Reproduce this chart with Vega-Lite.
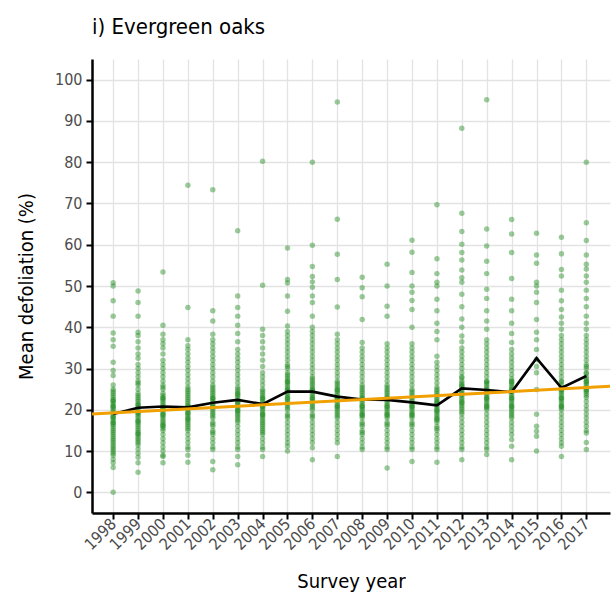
{
"$schema":"https://vega.github.io/schema/vega-lite/v6.json",
"autosize":{"type":"none"},
"padding":{"left":92,"top":59,"right":2,"bottom":87},
"width":518,"height":454,
"title":{"text":"i) Evergreen oaks","anchor":"start","frame":"group","fontSize":22,"fontWeight":"normal","font":"Liberation Sans Narrow, DejaVu Sans Condensed, sans-serif","color":"black","baseline":"alphabetic","offset":3},
"config":{"view":{"stroke":null},
"axis":{"domainColor":"black","domainWidth":2.5,"tickColor":"black","tickWidth":2,"tickSize":6,"gridColor":"#e3e3e3","gridWidth":1.3,"labelColor":"#4d4d4d","labelFont":"Liberation Sans Narrow, DejaVu Sans Condensed, sans-serif","labelFontSize":16,"titleFont":"Liberation Sans Narrow, DejaVu Sans Condensed, sans-serif","titleFontSize":20,"titleColor":"black","titleFontWeight":"normal"}},
"datasets":{
"means":[{"yr":1998,"d":19.0},{"yr":1999,"d":20.5},{"yr":2000,"d":20.8},{"yr":2001,"d":20.6},{"yr":2002,"d":21.7},{"yr":2003,"d":22.4},{"yr":2004,"d":21.4},{"yr":2005,"d":24.4},{"yr":2006,"d":24.4},{"yr":2007,"d":23.2},{"yr":2008,"d":22.5},{"yr":2009,"d":22.4},{"yr":2010,"d":21.8},{"yr":2011,"d":21.1},{"yr":2012,"d":25.2},{"yr":2013,"d":24.8},{"yr":2014,"d":24.3},{"yr":2015,"d":32.5},{"yr":2016,"d":25.3},{"yr":2017,"d":28.2}],
"trend":[{"yr":1997.15,"d":19.0},{"yr":2017.95,"d":25.7}],
"pts":[
{"yr":1998,"d":0},{"yr":1998,"d":6},{"yr":1998,"d":50.8},{"yr":1998,"d":50},{"yr":1998,"d":46.4},{"yr":1998,"d":42.7},{"yr":1998,"d":38.6},{"yr":1998,"d":37},{"yr":1998,"d":35.4},{"yr":1998,"d":31.5},{"yr":1998,"d":28.3},{"yr":1998,"d":29.5},{"yr":1998,"d":7.2},{"yr":1998,"d":8},{"yr":1998,"d":9},{"yr":1998,"d":10},{"yr":1998,"d":10.5},{"yr":1998,"d":11},{"yr":1998,"d":12},{"yr":1998,"d":12.5},{"yr":1998,"d":13},{"yr":1998,"d":14},{"yr":1998,"d":14.5},{"yr":1998,"d":15},{"yr":1998,"d":15.5},{"yr":1998,"d":16},{"yr":1998,"d":16.5},{"yr":1998,"d":17},{"yr":1998,"d":17.5},{"yr":1998,"d":18},{"yr":1998,"d":18.5},{"yr":1998,"d":19},{"yr":1998,"d":19.5},{"yr":1998,"d":20},{"yr":1998,"d":20.5},{"yr":1998,"d":21},{"yr":1998,"d":21.5},{"yr":1998,"d":22},{"yr":1998,"d":22.5},{"yr":1998,"d":23},{"yr":1998,"d":23.5},{"yr":1998,"d":24},{"yr":1998,"d":24.5},{"yr":1998,"d":25},{"yr":1998,"d":13.5},{"yr":1998,"d":16.8},{"yr":1998,"d":18.2},{"yr":1998,"d":20.8},{"yr":1998,"d":22.2},{"yr":1998,"d":11.5},{"yr":1998,"d":9.5},{"yr":1998,"d":26},
{"yr":1999,"d":48.8},{"yr":1999,"d":46},{"yr":1999,"d":42.7},{"yr":1999,"d":4.9},{"yr":1999,"d":7.2},{"yr":1999,"d":8.5},{"yr":1999,"d":9.5},{"yr":1999,"d":10.5},{"yr":1999,"d":11.5},{"yr":1999,"d":12},{"yr":1999,"d":12.5},{"yr":1999,"d":13},{"yr":1999,"d":13.5},{"yr":1999,"d":14},{"yr":1999,"d":14.5},{"yr":1999,"d":15},{"yr":1999,"d":15.5},{"yr":1999,"d":16},{"yr":1999,"d":16.5},{"yr":1999,"d":17},{"yr":1999,"d":17.5},{"yr":1999,"d":18},{"yr":1999,"d":18.5},{"yr":1999,"d":19},{"yr":1999,"d":19.5},{"yr":1999,"d":20},{"yr":1999,"d":20.5},{"yr":1999,"d":21},{"yr":1999,"d":21.5},{"yr":1999,"d":22},{"yr":1999,"d":22.5},{"yr":1999,"d":23},{"yr":1999,"d":23.5},{"yr":1999,"d":24},{"yr":1999,"d":25},{"yr":1999,"d":26},{"yr":1999,"d":26.5},{"yr":1999,"d":27},{"yr":1999,"d":28},{"yr":1999,"d":29},{"yr":1999,"d":30},{"yr":1999,"d":31},{"yr":1999,"d":32.5},{"yr":1999,"d":33.5},{"yr":1999,"d":35},{"yr":1999,"d":36.5},{"yr":1999,"d":38},{"yr":1999,"d":38.8},{"yr":1999,"d":17.2},{"yr":1999,"d":19.2},{"yr":1999,"d":21.2},{"yr":1999,"d":14.2},
{"yr":2000,"d":53.4},{"yr":2000,"d":40.5},{"yr":2000,"d":38.3},{"yr":2000,"d":37},{"yr":2000,"d":36},{"yr":2000,"d":35},{"yr":2000,"d":33.5},{"yr":2000,"d":32},{"yr":2000,"d":31},{"yr":2000,"d":30},{"yr":2000,"d":29},{"yr":2000,"d":28},{"yr":2000,"d":27},{"yr":2000,"d":26},{"yr":2000,"d":25.5},{"yr":2000,"d":25},{"yr":2000,"d":24},{"yr":2000,"d":23.5},{"yr":2000,"d":23},{"yr":2000,"d":22.5},{"yr":2000,"d":22},{"yr":2000,"d":21.5},{"yr":2000,"d":21},{"yr":2000,"d":20.5},{"yr":2000,"d":20},{"yr":2000,"d":19.5},{"yr":2000,"d":19},{"yr":2000,"d":18.5},{"yr":2000,"d":18},{"yr":2000,"d":17.5},{"yr":2000,"d":17},{"yr":2000,"d":16.5},{"yr":2000,"d":16},{"yr":2000,"d":15.5},{"yr":2000,"d":15},{"yr":2000,"d":14},{"yr":2000,"d":13},{"yr":2000,"d":12},{"yr":2000,"d":11},{"yr":2000,"d":10},{"yr":2000,"d":9},{"yr":2000,"d":8.7},{"yr":2000,"d":7.2},{"yr":2000,"d":18.8},{"yr":2000,"d":20.2},{"yr":2000,"d":22.8},{"yr":2000,"d":16.2},
{"yr":2001,"d":74.4},{"yr":2001,"d":44.8},{"yr":2001,"d":37},{"yr":2001,"d":35.5},{"yr":2001,"d":34.6},{"yr":2001,"d":33.5},{"yr":2001,"d":32.5},{"yr":2001,"d":31.5},{"yr":2001,"d":30.5},{"yr":2001,"d":29.5},{"yr":2001,"d":28.5},{"yr":2001,"d":27.5},{"yr":2001,"d":26.5},{"yr":2001,"d":25.5},{"yr":2001,"d":25},{"yr":2001,"d":24.5},{"yr":2001,"d":24},{"yr":2001,"d":23.5},{"yr":2001,"d":23},{"yr":2001,"d":22.5},{"yr":2001,"d":22},{"yr":2001,"d":21.5},{"yr":2001,"d":21},{"yr":2001,"d":20.5},{"yr":2001,"d":20},{"yr":2001,"d":19.5},{"yr":2001,"d":19},{"yr":2001,"d":18.5},{"yr":2001,"d":18},{"yr":2001,"d":17.5},{"yr":2001,"d":17},{"yr":2001,"d":16.5},{"yr":2001,"d":16},{"yr":2001,"d":15.5},{"yr":2001,"d":15},{"yr":2001,"d":14},{"yr":2001,"d":13},{"yr":2001,"d":12},{"yr":2001,"d":11},{"yr":2001,"d":10.4},{"yr":2001,"d":9},{"yr":2001,"d":7.3},{"yr":2001,"d":20.8},{"yr":2001,"d":19.2},{"yr":2001,"d":17.8},
{"yr":2002,"d":73.3},{"yr":2002,"d":44},{"yr":2002,"d":41.5},{"yr":2002,"d":38.3},{"yr":2002,"d":37},{"yr":2002,"d":36},{"yr":2002,"d":35},{"yr":2002,"d":34},{"yr":2002,"d":33},{"yr":2002,"d":32},{"yr":2002,"d":31},{"yr":2002,"d":30},{"yr":2002,"d":29},{"yr":2002,"d":28},{"yr":2002,"d":27},{"yr":2002,"d":26},{"yr":2002,"d":25.5},{"yr":2002,"d":25},{"yr":2002,"d":24.5},{"yr":2002,"d":24},{"yr":2002,"d":23.5},{"yr":2002,"d":23},{"yr":2002,"d":22.5},{"yr":2002,"d":22},{"yr":2002,"d":21.5},{"yr":2002,"d":21},{"yr":2002,"d":20.5},{"yr":2002,"d":20},{"yr":2002,"d":19.5},{"yr":2002,"d":19},{"yr":2002,"d":18.5},{"yr":2002,"d":18},{"yr":2002,"d":17},{"yr":2002,"d":16},{"yr":2002,"d":15},{"yr":2002,"d":14},{"yr":2002,"d":13},{"yr":2002,"d":12},{"yr":2002,"d":11},{"yr":2002,"d":10.4},{"yr":2002,"d":7.5},{"yr":2002,"d":5.5},{"yr":2002,"d":22.8},{"yr":2002,"d":20.8},{"yr":2002,"d":16.5},{"yr":2002,"d":14.5},
{"yr":2003,"d":63.4},{"yr":2003,"d":47.6},{"yr":2003,"d":44.8},{"yr":2003,"d":42.7},{"yr":2003,"d":40.5},{"yr":2003,"d":38.5},{"yr":2003,"d":36.5},{"yr":2003,"d":34.6},{"yr":2003,"d":33.5},{"yr":2003,"d":32.5},{"yr":2003,"d":31.5},{"yr":2003,"d":30.5},{"yr":2003,"d":29.5},{"yr":2003,"d":28.5},{"yr":2003,"d":27.5},{"yr":2003,"d":26.5},{"yr":2003,"d":25.5},{"yr":2003,"d":25},{"yr":2003,"d":24.5},{"yr":2003,"d":24},{"yr":2003,"d":23.5},{"yr":2003,"d":23},{"yr":2003,"d":22.5},{"yr":2003,"d":22},{"yr":2003,"d":21.5},{"yr":2003,"d":21},{"yr":2003,"d":20.5},{"yr":2003,"d":20},{"yr":2003,"d":19.5},{"yr":2003,"d":19},{"yr":2003,"d":18.5},{"yr":2003,"d":18},{"yr":2003,"d":17.5},{"yr":2003,"d":17},{"yr":2003,"d":16},{"yr":2003,"d":15},{"yr":2003,"d":14},{"yr":2003,"d":13},{"yr":2003,"d":12},{"yr":2003,"d":11},{"yr":2003,"d":10.4},{"yr":2003,"d":8.7},{"yr":2003,"d":6.7},{"yr":2003,"d":21.8},{"yr":2003,"d":23.8},{"yr":2003,"d":19.8},
{"yr":2004,"d":80.2},{"yr":2004,"d":50.2},{"yr":2004,"d":39.5},{"yr":2004,"d":38},{"yr":2004,"d":36.5},{"yr":2004,"d":35},{"yr":2004,"d":33.5},{"yr":2004,"d":32},{"yr":2004,"d":30.5},{"yr":2004,"d":29},{"yr":2004,"d":28},{"yr":2004,"d":27},{"yr":2004,"d":26},{"yr":2004,"d":25},{"yr":2004,"d":24.5},{"yr":2004,"d":24},{"yr":2004,"d":23.5},{"yr":2004,"d":23},{"yr":2004,"d":22.5},{"yr":2004,"d":22},{"yr":2004,"d":21.5},{"yr":2004,"d":21},{"yr":2004,"d":20.5},{"yr":2004,"d":20},{"yr":2004,"d":19.5},{"yr":2004,"d":19},{"yr":2004,"d":18.5},{"yr":2004,"d":18},{"yr":2004,"d":17.5},{"yr":2004,"d":17},{"yr":2004,"d":16.5},{"yr":2004,"d":16},{"yr":2004,"d":15.5},{"yr":2004,"d":15},{"yr":2004,"d":14},{"yr":2004,"d":13},{"yr":2004,"d":12},{"yr":2004,"d":11},{"yr":2004,"d":10.4},{"yr":2004,"d":8.7},{"yr":2004,"d":20.8},{"yr":2004,"d":18.8},{"yr":2004,"d":22.8},{"yr":2004,"d":14.5},
{"yr":2005,"d":59.2},{"yr":2005,"d":51.6},{"yr":2005,"d":50.7},{"yr":2005,"d":47.6},{"yr":2005,"d":43.9},{"yr":2005,"d":40.3},{"yr":2005,"d":39},{"yr":2005,"d":38},{"yr":2005,"d":37},{"yr":2005,"d":36},{"yr":2005,"d":35},{"yr":2005,"d":34},{"yr":2005,"d":33},{"yr":2005,"d":32},{"yr":2005,"d":31},{"yr":2005,"d":30},{"yr":2005,"d":29},{"yr":2005,"d":28.5},{"yr":2005,"d":28},{"yr":2005,"d":27.5},{"yr":2005,"d":27},{"yr":2005,"d":26.5},{"yr":2005,"d":26},{"yr":2005,"d":25.5},{"yr":2005,"d":25},{"yr":2005,"d":24.5},{"yr":2005,"d":24},{"yr":2005,"d":23.5},{"yr":2005,"d":23},{"yr":2005,"d":22.5},{"yr":2005,"d":22},{"yr":2005,"d":21.5},{"yr":2005,"d":21},{"yr":2005,"d":20.5},{"yr":2005,"d":20},{"yr":2005,"d":19},{"yr":2005,"d":18},{"yr":2005,"d":17},{"yr":2005,"d":16},{"yr":2005,"d":15},{"yr":2005,"d":14},{"yr":2005,"d":13},{"yr":2005,"d":12},{"yr":2005,"d":11.2},{"yr":2005,"d":10},{"yr":2005,"d":24.8},{"yr":2005,"d":26.8},{"yr":2005,"d":22.8},{"yr":2005,"d":30.5},{"yr":2005,"d":18.5},
{"yr":2006,"d":80},{"yr":2006,"d":59.9},{"yr":2006,"d":54.7},{"yr":2006,"d":52.3},{"yr":2006,"d":51},{"yr":2006,"d":49.7},{"yr":2006,"d":47.6},{"yr":2006,"d":46},{"yr":2006,"d":42.7},{"yr":2006,"d":40},{"yr":2006,"d":39},{"yr":2006,"d":38},{"yr":2006,"d":37},{"yr":2006,"d":36},{"yr":2006,"d":35},{"yr":2006,"d":34},{"yr":2006,"d":33},{"yr":2006,"d":32},{"yr":2006,"d":31},{"yr":2006,"d":30},{"yr":2006,"d":29},{"yr":2006,"d":28},{"yr":2006,"d":27.5},{"yr":2006,"d":27},{"yr":2006,"d":26.5},{"yr":2006,"d":26},{"yr":2006,"d":25.5},{"yr":2006,"d":25},{"yr":2006,"d":24.5},{"yr":2006,"d":24},{"yr":2006,"d":23.5},{"yr":2006,"d":23},{"yr":2006,"d":22.5},{"yr":2006,"d":22},{"yr":2006,"d":21.5},{"yr":2006,"d":21},{"yr":2006,"d":20},{"yr":2006,"d":19},{"yr":2006,"d":18},{"yr":2006,"d":17},{"yr":2006,"d":16},{"yr":2006,"d":15},{"yr":2006,"d":14},{"yr":2006,"d":13},{"yr":2006,"d":12},{"yr":2006,"d":10.8},{"yr":2006,"d":7.9},{"yr":2006,"d":24.8},{"yr":2006,"d":22.8},{"yr":2006,"d":20.5},{"yr":2006,"d":18.5},
{"yr":2007,"d":94.6},{"yr":2007,"d":66.2},{"yr":2007,"d":57.7},{"yr":2007,"d":51.6},{"yr":2007,"d":44.9},{"yr":2007,"d":38.3},{"yr":2007,"d":37},{"yr":2007,"d":36},{"yr":2007,"d":35},{"yr":2007,"d":34},{"yr":2007,"d":33},{"yr":2007,"d":32},{"yr":2007,"d":31},{"yr":2007,"d":30},{"yr":2007,"d":29},{"yr":2007,"d":28},{"yr":2007,"d":27},{"yr":2007,"d":26.5},{"yr":2007,"d":26},{"yr":2007,"d":25.5},{"yr":2007,"d":25},{"yr":2007,"d":24.5},{"yr":2007,"d":24},{"yr":2007,"d":23.5},{"yr":2007,"d":23},{"yr":2007,"d":22.5},{"yr":2007,"d":22},{"yr":2007,"d":21.5},{"yr":2007,"d":21},{"yr":2007,"d":20.5},{"yr":2007,"d":20},{"yr":2007,"d":19.5},{"yr":2007,"d":19},{"yr":2007,"d":18},{"yr":2007,"d":17},{"yr":2007,"d":16},{"yr":2007,"d":15},{"yr":2007,"d":14},{"yr":2007,"d":13},{"yr":2007,"d":12},{"yr":2007,"d":8.7},{"yr":2007,"d":22.8},{"yr":2007,"d":20.8},{"yr":2007,"d":24.8},{"yr":2007,"d":18.5},
{"yr":2008,"d":52.1},{"yr":2008,"d":49.6},{"yr":2008,"d":47.4},{"yr":2008,"d":41.9},{"yr":2008,"d":36.3},{"yr":2008,"d":35},{"yr":2008,"d":34},{"yr":2008,"d":33},{"yr":2008,"d":32},{"yr":2008,"d":31},{"yr":2008,"d":30},{"yr":2008,"d":29},{"yr":2008,"d":28},{"yr":2008,"d":27},{"yr":2008,"d":26},{"yr":2008,"d":25.5},{"yr":2008,"d":25},{"yr":2008,"d":24.5},{"yr":2008,"d":24},{"yr":2008,"d":23.5},{"yr":2008,"d":23},{"yr":2008,"d":22.5},{"yr":2008,"d":22},{"yr":2008,"d":21.5},{"yr":2008,"d":21},{"yr":2008,"d":20.5},{"yr":2008,"d":20},{"yr":2008,"d":19.5},{"yr":2008,"d":19},{"yr":2008,"d":18.5},{"yr":2008,"d":18},{"yr":2008,"d":17},{"yr":2008,"d":16},{"yr":2008,"d":15},{"yr":2008,"d":14},{"yr":2008,"d":13},{"yr":2008,"d":12},{"yr":2008,"d":11},{"yr":2008,"d":10.4},{"yr":2008,"d":22.8},{"yr":2008,"d":20.8},{"yr":2008,"d":18.8},{"yr":2008,"d":16.5},{"yr":2008,"d":14.5},
{"yr":2009,"d":55.3},{"yr":2009,"d":50},{"yr":2009,"d":45.1},{"yr":2009,"d":42.7},{"yr":2009,"d":36},{"yr":2009,"d":35},{"yr":2009,"d":34},{"yr":2009,"d":33},{"yr":2009,"d":32},{"yr":2009,"d":31},{"yr":2009,"d":30},{"yr":2009,"d":29},{"yr":2009,"d":28},{"yr":2009,"d":27},{"yr":2009,"d":26},{"yr":2009,"d":25.5},{"yr":2009,"d":25},{"yr":2009,"d":24.5},{"yr":2009,"d":24},{"yr":2009,"d":23.5},{"yr":2009,"d":23},{"yr":2009,"d":22.5},{"yr":2009,"d":22},{"yr":2009,"d":21.5},{"yr":2009,"d":21},{"yr":2009,"d":20.5},{"yr":2009,"d":20},{"yr":2009,"d":19.5},{"yr":2009,"d":19},{"yr":2009,"d":18.5},{"yr":2009,"d":18},{"yr":2009,"d":17},{"yr":2009,"d":16},{"yr":2009,"d":15},{"yr":2009,"d":14},{"yr":2009,"d":13},{"yr":2009,"d":12},{"yr":2009,"d":11},{"yr":2009,"d":10.4},{"yr":2009,"d":5.9},{"yr":2009,"d":22.8},{"yr":2009,"d":20.8},{"yr":2009,"d":18.8},{"yr":2009,"d":16.5},
{"yr":2010,"d":61.1},{"yr":2010,"d":58.2},{"yr":2010,"d":53.3},{"yr":2010,"d":50},{"yr":2010,"d":48.5},{"yr":2010,"d":46.5},{"yr":2010,"d":44.3},{"yr":2010,"d":40},{"yr":2010,"d":36},{"yr":2010,"d":35},{"yr":2010,"d":34},{"yr":2010,"d":33},{"yr":2010,"d":32},{"yr":2010,"d":31},{"yr":2010,"d":30},{"yr":2010,"d":29},{"yr":2010,"d":28},{"yr":2010,"d":27},{"yr":2010,"d":26},{"yr":2010,"d":25},{"yr":2010,"d":24.5},{"yr":2010,"d":24},{"yr":2010,"d":23.5},{"yr":2010,"d":23},{"yr":2010,"d":22.5},{"yr":2010,"d":22},{"yr":2010,"d":21.5},{"yr":2010,"d":21},{"yr":2010,"d":20.5},{"yr":2010,"d":20},{"yr":2010,"d":19.5},{"yr":2010,"d":19},{"yr":2010,"d":18.5},{"yr":2010,"d":18},{"yr":2010,"d":17},{"yr":2010,"d":16},{"yr":2010,"d":15},{"yr":2010,"d":14},{"yr":2010,"d":13},{"yr":2010,"d":12},{"yr":2010,"d":11},{"yr":2010,"d":10.4},{"yr":2010,"d":7.5},{"yr":2010,"d":20.8},{"yr":2010,"d":18.8},{"yr":2010,"d":16.5},
{"yr":2011,"d":69.7},{"yr":2011,"d":56.6},{"yr":2011,"d":53},{"yr":2011,"d":50.9},{"yr":2011,"d":50},{"yr":2011,"d":46.8},{"yr":2011,"d":44},{"yr":2011,"d":41},{"yr":2011,"d":39},{"yr":2011,"d":37},{"yr":2011,"d":33},{"yr":2011,"d":31.5},{"yr":2011,"d":30.5},{"yr":2011,"d":29.5},{"yr":2011,"d":28.5},{"yr":2011,"d":27.5},{"yr":2011,"d":26.5},{"yr":2011,"d":25.5},{"yr":2011,"d":25},{"yr":2011,"d":24.5},{"yr":2011,"d":24},{"yr":2011,"d":23.5},{"yr":2011,"d":23},{"yr":2011,"d":22.5},{"yr":2011,"d":22},{"yr":2011,"d":21.5},{"yr":2011,"d":21},{"yr":2011,"d":20.5},{"yr":2011,"d":20},{"yr":2011,"d":19.5},{"yr":2011,"d":19},{"yr":2011,"d":18.5},{"yr":2011,"d":18},{"yr":2011,"d":17.5},{"yr":2011,"d":17},{"yr":2011,"d":16},{"yr":2011,"d":15},{"yr":2011,"d":14},{"yr":2011,"d":13},{"yr":2011,"d":12},{"yr":2011,"d":11},{"yr":2011,"d":10.4},{"yr":2011,"d":7.3},{"yr":2011,"d":21.8},{"yr":2011,"d":19.8},{"yr":2011,"d":17.8},{"yr":2011,"d":15.5},
{"yr":2012,"d":88.2},{"yr":2012,"d":67.6},{"yr":2012,"d":63.2},{"yr":2012,"d":60.1},{"yr":2012,"d":58.1},{"yr":2012,"d":56.3},{"yr":2012,"d":53.9},{"yr":2012,"d":52},{"yr":2012,"d":50.9},{"yr":2012,"d":48},{"yr":2012,"d":45},{"yr":2012,"d":42},{"yr":2012,"d":40},{"yr":2012,"d":37.9},{"yr":2012,"d":36.5},{"yr":2012,"d":35},{"yr":2012,"d":34},{"yr":2012,"d":33},{"yr":2012,"d":32},{"yr":2012,"d":31},{"yr":2012,"d":30},{"yr":2012,"d":29},{"yr":2012,"d":28},{"yr":2012,"d":27},{"yr":2012,"d":26.5},{"yr":2012,"d":26},{"yr":2012,"d":25.5},{"yr":2012,"d":25},{"yr":2012,"d":24.5},{"yr":2012,"d":24},{"yr":2012,"d":23.5},{"yr":2012,"d":23},{"yr":2012,"d":22.5},{"yr":2012,"d":22},{"yr":2012,"d":21.5},{"yr":2012,"d":21},{"yr":2012,"d":20.5},{"yr":2012,"d":20},{"yr":2012,"d":19},{"yr":2012,"d":18},{"yr":2012,"d":17},{"yr":2012,"d":16},{"yr":2012,"d":15},{"yr":2012,"d":14},{"yr":2012,"d":13},{"yr":2012,"d":12},{"yr":2012,"d":11},{"yr":2012,"d":10.4},{"yr":2012,"d":7.9},{"yr":2012,"d":25.8},{"yr":2012,"d":23.8},{"yr":2012,"d":27.8},{"yr":2012,"d":21.8},{"yr":2012,"d":19.5},
{"yr":2013,"d":95.1},{"yr":2013,"d":63.8},{"yr":2013,"d":59.7},{"yr":2013,"d":56},{"yr":2013,"d":53},{"yr":2013,"d":49.2},{"yr":2013,"d":47},{"yr":2013,"d":44},{"yr":2013,"d":41.5},{"yr":2013,"d":39.5},{"yr":2013,"d":37},{"yr":2013,"d":36},{"yr":2013,"d":35},{"yr":2013,"d":34},{"yr":2013,"d":33},{"yr":2013,"d":32},{"yr":2013,"d":31},{"yr":2013,"d":30},{"yr":2013,"d":29},{"yr":2013,"d":28},{"yr":2013,"d":27},{"yr":2013,"d":26.5},{"yr":2013,"d":26},{"yr":2013,"d":25.5},{"yr":2013,"d":25},{"yr":2013,"d":24.5},{"yr":2013,"d":24},{"yr":2013,"d":23.5},{"yr":2013,"d":23},{"yr":2013,"d":22.5},{"yr":2013,"d":22},{"yr":2013,"d":21.5},{"yr":2013,"d":21},{"yr":2013,"d":20.5},{"yr":2013,"d":20},{"yr":2013,"d":19},{"yr":2013,"d":18},{"yr":2013,"d":17},{"yr":2013,"d":16},{"yr":2013,"d":15},{"yr":2013,"d":14},{"yr":2013,"d":13},{"yr":2013,"d":12},{"yr":2013,"d":11},{"yr":2013,"d":10.4},{"yr":2013,"d":9.2},{"yr":2013,"d":24.8},{"yr":2013,"d":22.8},{"yr":2013,"d":26.8},{"yr":2013,"d":20.8},
{"yr":2014,"d":66.1},{"yr":2014,"d":62.6},{"yr":2014,"d":58.1},{"yr":2014,"d":51.8},{"yr":2014,"d":46.8},{"yr":2014,"d":44},{"yr":2014,"d":41},{"yr":2014,"d":38.5},{"yr":2014,"d":36.3},{"yr":2014,"d":34.6},{"yr":2014,"d":33.5},{"yr":2014,"d":32.5},{"yr":2014,"d":31.5},{"yr":2014,"d":30.5},{"yr":2014,"d":29.5},{"yr":2014,"d":28.5},{"yr":2014,"d":27.5},{"yr":2014,"d":27},{"yr":2014,"d":26.5},{"yr":2014,"d":26},{"yr":2014,"d":25.5},{"yr":2014,"d":25},{"yr":2014,"d":24.5},{"yr":2014,"d":24},{"yr":2014,"d":23.5},{"yr":2014,"d":23},{"yr":2014,"d":22.5},{"yr":2014,"d":22},{"yr":2014,"d":21.5},{"yr":2014,"d":21},{"yr":2014,"d":20.5},{"yr":2014,"d":20},{"yr":2014,"d":19.5},{"yr":2014,"d":19},{"yr":2014,"d":18},{"yr":2014,"d":17},{"yr":2014,"d":16},{"yr":2014,"d":15},{"yr":2014,"d":14},{"yr":2014,"d":12.8},{"yr":2014,"d":11.2},{"yr":2014,"d":7.9},{"yr":2014,"d":24.8},{"yr":2014,"d":22.8},{"yr":2014,"d":26.8},{"yr":2014,"d":20.8},{"yr":2014,"d":18.5},
{"yr":2015,"d":62.8},{"yr":2015,"d":57.5},{"yr":2015,"d":55.5},{"yr":2015,"d":50.9},{"yr":2015,"d":50},{"yr":2015,"d":48.5},{"yr":2015,"d":46},{"yr":2015,"d":41.9},{"yr":2015,"d":38.8},{"yr":2015,"d":37},{"yr":2015,"d":34.6},{"yr":2015,"d":32.2},{"yr":2015,"d":30.5},{"yr":2015,"d":29},{"yr":2015,"d":24.9},{"yr":2015,"d":18.9},{"yr":2015,"d":16},{"yr":2015,"d":14.8},{"yr":2015,"d":13.6},{"yr":2015,"d":10},
{"yr":2016,"d":61.8},{"yr":2016,"d":57.8},{"yr":2016,"d":54},{"yr":2016,"d":52.4},{"yr":2016,"d":49},{"yr":2016,"d":46.4},{"yr":2016,"d":44.3},{"yr":2016,"d":42.5},{"yr":2016,"d":41},{"yr":2016,"d":39.5},{"yr":2016,"d":38},{"yr":2016,"d":37},{"yr":2016,"d":36},{"yr":2016,"d":35},{"yr":2016,"d":34},{"yr":2016,"d":33},{"yr":2016,"d":32},{"yr":2016,"d":31},{"yr":2016,"d":30},{"yr":2016,"d":29},{"yr":2016,"d":28},{"yr":2016,"d":27},{"yr":2016,"d":26},{"yr":2016,"d":25.5},{"yr":2016,"d":25},{"yr":2016,"d":24.5},{"yr":2016,"d":24},{"yr":2016,"d":23.5},{"yr":2016,"d":23},{"yr":2016,"d":22.5},{"yr":2016,"d":22},{"yr":2016,"d":21.5},{"yr":2016,"d":21},{"yr":2016,"d":20.5},{"yr":2016,"d":20},{"yr":2016,"d":19},{"yr":2016,"d":18},{"yr":2016,"d":17},{"yr":2016,"d":16},{"yr":2016,"d":15},{"yr":2016,"d":14},{"yr":2016,"d":13},{"yr":2016,"d":12},{"yr":2016,"d":11.2},{"yr":2016,"d":8.7},{"yr":2016,"d":24.8},{"yr":2016,"d":22.8},{"yr":2016,"d":26.8},{"yr":2016,"d":20.8},
{"yr":2017,"d":80},{"yr":2017,"d":65.3},{"yr":2017,"d":61},{"yr":2017,"d":57.5},{"yr":2017,"d":55.3},{"yr":2017,"d":54.1},{"yr":2017,"d":52.4},{"yr":2017,"d":50.9},{"yr":2017,"d":49},{"yr":2017,"d":47},{"yr":2017,"d":45},{"yr":2017,"d":42.7},{"yr":2017,"d":41},{"yr":2017,"d":39.5},{"yr":2017,"d":38},{"yr":2017,"d":37},{"yr":2017,"d":36},{"yr":2017,"d":35},{"yr":2017,"d":34},{"yr":2017,"d":33},{"yr":2017,"d":32},{"yr":2017,"d":31},{"yr":2017,"d":30},{"yr":2017,"d":29},{"yr":2017,"d":28},{"yr":2017,"d":27.5},{"yr":2017,"d":27},{"yr":2017,"d":26.5},{"yr":2017,"d":26},{"yr":2017,"d":25.5},{"yr":2017,"d":25},{"yr":2017,"d":24.5},{"yr":2017,"d":24},{"yr":2017,"d":23.5},{"yr":2017,"d":23},{"yr":2017,"d":22},{"yr":2017,"d":21},{"yr":2017,"d":20},{"yr":2017,"d":19},{"yr":2017,"d":18},{"yr":2017,"d":17},{"yr":2017,"d":16},{"yr":2017,"d":15},{"yr":2017,"d":14.4},{"yr":2017,"d":12.1},{"yr":2017,"d":10.4},{"yr":2017,"d":28.8},{"yr":2017,"d":26.8},{"yr":2017,"d":24.8},{"yr":2017,"d":30.5}
]},
"encoding":{
"x":{"field":"yr","type":"quantitative","scale":{"domain":[1997.15,2017.95],"nice":false,"zero":false},
"axis":{"values":[1998,1999,2000,2001,2002,2003,2004,2005,2006,2007,2008,2009,2010,2011,2012,2013,2014,2015,2016,2017],"format":"d","labelAngle":-45,"labelAlign":"right","labelBaseline":"middle","labelPadding":2,"labelOverlap":false,"title":"Survey year","titleY":74,"titleBaseline":"alphabetic"}},
"y":{"field":"d","type":"quantitative","scale":{"domain":[-5,105],"nice":false,"zero":false},
"axis":{"values":[0,10,20,30,40,50,60,70,80,90,100],"labelPadding":4,"title":"Mean defoliation (%)","titleX":-66,"titleY":227,"titleAngle":-90,"titleAlign":"center","titleBaseline":"middle"}}
},
"layer":[
{"data":{"name":"pts"},"mark":{"type":"circle","color":"#228B22","opacity":0.45,"size":30}},
{"data":{"name":"means"},"mark":{"type":"line","color":"black","strokeWidth":2.6}},
{"data":{"name":"trend"},"mark":{"type":"line","color":"#F0A000","strokeWidth":3,"clip":true}}
]
}
